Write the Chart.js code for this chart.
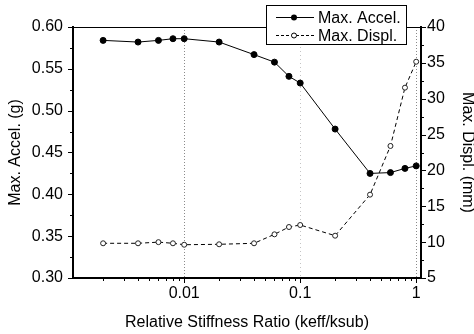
<!DOCTYPE html>
<html>
<head>
<meta charset="utf-8">
<script src="https://cdn.jsdelivr.net/npm/chart.js@4"></script>
<style>
html,body{margin:0;padding:0;background:#fff;}
#wrap{width:474px;height:334px;}
</style>
</head>
<body>
<div id="wrap"><canvas id="c" width="474" height="334"></canvas></div>
<script>
// ---- data ----
const stiffnessRatio = [0.002, 0.004, 0.006, 0.008, 0.01, 0.02, 0.04, 0.06, 0.08, 0.1, 0.2, 0.4, 0.6, 0.8, 1.0];
const maxAccel = [0.584, 0.582, 0.584, 0.586, 0.586, 0.582, 0.567, 0.558, 0.541, 0.533, 0.478, 0.425, 0.426, 0.431, 0.434];
const maxDispl = [9.84, 9.84, 10.0, 9.84, 9.64, 9.70, 9.84, 11.09, 12.11, 12.39, 10.90, 16.62, 23.41, 31.54, 35.16];
const xMajorTicks = [0.01, 0.1, 1];
const xTickLabels = ['0.01', '0.1', '1'];
const seriesNames = ['Max. Accel.', 'Max. Displ.'];
const xTitle = 'Relative Stiffness Ratio (keff/ksub)';
const yTitle = 'Max. Accel. (g)';
const y2Title = 'Max. Displ. (mm)';

const FONT = '"Liberation Sans", Arial, Helvetica, sans-serif';
Chart.defaults.font.family = FONT;
Chart.defaults.color = '#000';

function minorLogValues(min, max) {
  const out = [];
  for (let e = -4; e <= 1; e++) {
    for (let m = 1; m <= 9; m++) {
      const v = m * Math.pow(10, e);
      if (v >= min && v <= max) out.push(v);
    }
  }
  return out;
}

const gridStyles = [
  {color: '#8a8a8a', dash: [1, 2]},
  {color: '#c4c4c4', dash: [1, 3]},
  {color: '#8a8a8a', dash: [1, 2]}
];

const axisDecor = {
  id: 'axisDecor',
  beforeDatasetsDraw(chart) {
    const {ctx, chartArea: a, scales} = chart;
    const xs = scales.x;
    ctx.save();
    ctx.lineWidth = 1;
    xMajorTicks.forEach((v, i) => {
      const px = Math.round(xs.getPixelForValue(v)) + 0.5;
      ctx.strokeStyle = gridStyles[i].color;
      ctx.setLineDash(gridStyles[i].dash);
      ctx.beginPath(); ctx.moveTo(px, a.top); ctx.lineTo(px, a.bottom); ctx.stroke();
    });
    ctx.setLineDash([]);
    ctx.strokeStyle = '#000';
    ctx.lineWidth = 1;
    ctx.beginPath(); ctx.moveTo(a.left, a.top + 0.5); ctx.lineTo(a.right, a.top + 0.5); ctx.stroke();
    ctx.restore();
  },
  afterDraw(chart) {
    const {ctx, chartArea: a, scales} = chart;
    const xs = scales.x, ys = scales.y, y2 = scales.y2;
    ctx.save();
    ctx.strokeStyle = '#000';
    ctx.lineWidth = 1;
    minorLogValues(xs.min, xs.max).forEach(v => {
      const major = xMajorTicks.some(t => Math.abs(t - v) < 1e-9);
      const px = Math.round(xs.getPixelForValue(v)) + 0.5;
      ctx.beginPath(); ctx.moveTo(px, a.bottom); ctx.lineTo(px, a.bottom + (major ? 5 : 3)); ctx.stroke();
    });
    for (let v = 0.30; v <= 0.6001; v += 0.025) {
      const major = Math.abs(Math.round(v / 0.05) * 0.05 - v) < 1e-6;
      const py = Math.round(ys.getPixelForValue(v)) + 0.5;
      ctx.beginPath(); ctx.moveTo(a.left, py); ctx.lineTo(a.left - (major ? 5 : 3), py); ctx.stroke();
    }
    for (let v = 5; v <= 40.001; v += 2.5) {
      const major = Math.abs(Math.round(v / 5) * 5 - v) < 1e-6;
      const py = Math.round(y2.getPixelForValue(v)) + 0.5;
      ctx.beginPath(); ctx.moveTo(a.right, py); ctx.lineTo(a.right + (major ? 5 : 3), py); ctx.stroke();
    }
    // legend
    const L = 266, T = 5, R = 407, B = 45;
    ctx.fillStyle = '#fff';
    ctx.fillRect(L, T, R - L, B - T);
    ctx.strokeRect(L + 0.5, T + 0.5, R - L - 1, B - T - 1);
    const rows = [17.5, 35.5];
    ctx.beginPath(); ctx.moveTo(276, rows[0]); ctx.lineTo(314, rows[0]); ctx.stroke();
    ctx.fillStyle = '#000';
    ctx.beginPath(); ctx.arc(294, rows[0], 3, 0, Math.PI * 2); ctx.fill();
    ctx.setLineDash([3, 2]);
    ctx.beginPath(); ctx.moveTo(276, rows[1]); ctx.lineTo(314, rows[1]); ctx.stroke();
    ctx.setLineDash([]);
    ctx.fillStyle = '#fff';
    ctx.beginPath(); ctx.arc(294, rows[1], 2.5, 0, Math.PI * 2); ctx.fill(); ctx.stroke();
    ctx.fillStyle = '#000';
    ctx.font = '16px ' + FONT;
    ctx.textBaseline = 'middle';
    ctx.textAlign = 'left';
    ctx.fillText(seriesNames[0], 318, rows[0] + 1);
    ctx.fillText(seriesNames[1], 318, rows[1] + 1);
    ctx.restore();
  }
};

const accelPts = stiffnessRatio.map((x, i) => ({x, y: maxAccel[i]}));
const displPts = stiffnessRatio.map((x, i) => ({x, y: maxDispl[i]}));

const noGrid = {display: false, drawTicks: false, tickLength: 0};

new Chart(document.getElementById('c'), {
  type: 'line',
  data: {
    datasets: [
      {
        label: seriesNames[0], data: accelPts, yAxisID: 'y',
        borderColor: '#000', borderWidth: 1, backgroundColor: '#000',
        pointRadius: 3, pointBackgroundColor: '#000', pointBorderColor: '#000', pointBorderWidth: 1,
        tension: 0, fill: false
      },
      {
        label: seriesNames[1], data: displPts, yAxisID: 'y2',
        borderColor: '#000', borderWidth: 1, borderDash: [4, 3],
        pointRadius: 2.5, pointBackgroundColor: '#fff', pointBorderColor: '#222', pointBorderWidth: 1,
        tension: 0, fill: false
      }
    ]
  },
  options: {
    responsive: false,
    animation: false,
    devicePixelRatio: 1,
    layout: {padding: {top: 27, left: 0, right: 0, bottom: 0}},
    plugins: {legend: {display: false}, tooltip: {enabled: false}},
    scales: {
      x: {
        type: 'logarithmic', position: 'bottom', min: 0.0011, max: 1.1,
        afterBuildTicks: s => { s.ticks = xMajorTicks.map(v => ({value: v})); },
        afterFit: s => { s.height = 56; },
        grid: noGrid,
        border: {display: true, color: '#000', width: 2},
        ticks: {
          autoSkip: false, maxRotation: 0, padding: 6,
          font: {size: 16},
          callback: (v) => { const i = xMajorTicks.findIndex(t => Math.abs(t - v) < 1e-9); return i >= 0 ? xTickLabels[i] : ''; }
        },
        title: {display: true, text: xTitle, font: {size: 16, lineHeight: 1.2}, padding: {top: 0, bottom: 2}}
      },
      y: {
        type: 'linear', position: 'left', min: 0.3, max: 0.6,
        afterFit: s => { s.width = 73; },
        grid: noGrid,
        border: {display: true, color: '#000', width: 2},
        ticks: {stepSize: 0.05, padding: 10, font: {size: 16}, callback: v => v.toFixed(2)},
        title: {display: true, text: yTitle, font: {size: 16, lineHeight: 1.2}, padding: {top: 6, bottom: 0}}
      },
      y2: {
        type: 'linear', position: 'right', min: 5, max: 40,
        afterFit: s => { s.width = 53; },
        grid: noGrid,
        border: {display: true, color: '#000', width: 2},
        ticks: {stepSize: 5, padding: 6, font: {size: 16}, callback: v => String(v)},
        title: {display: true, text: y2Title, font: {size: 16, lineHeight: 0.8}, padding: {top: 0, bottom: 0}}
      }
    }
  },
  plugins: [axisDecor]
});
</script>
</body>
</html>
